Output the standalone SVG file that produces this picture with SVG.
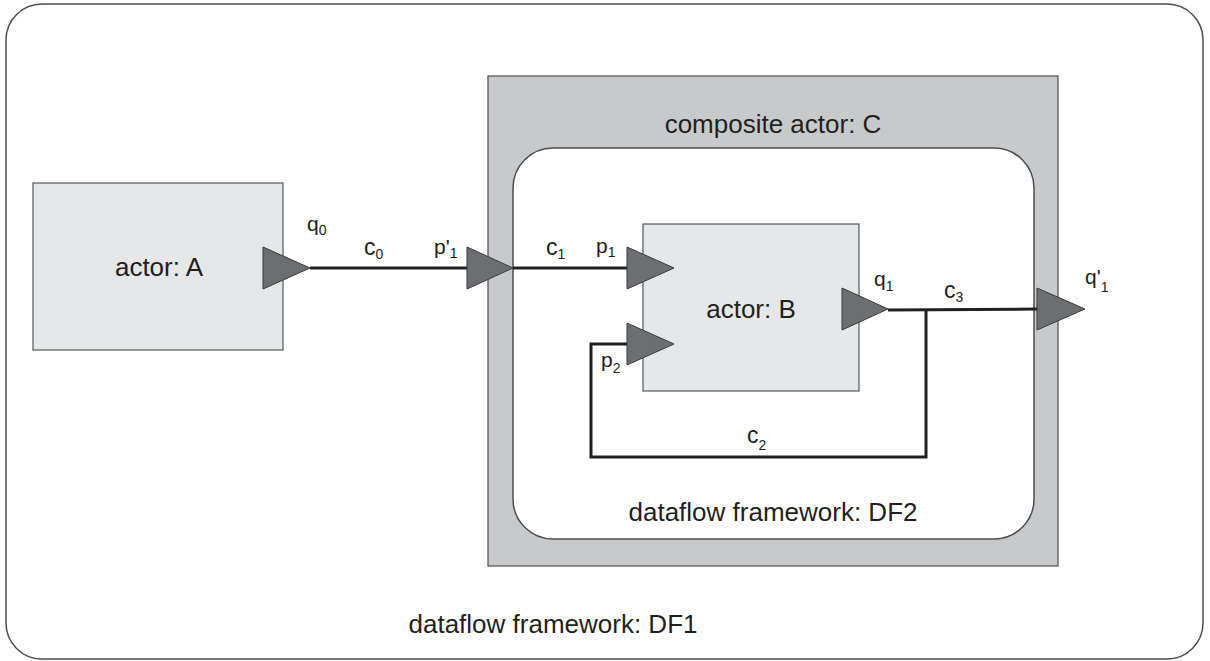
<svg xmlns="http://www.w3.org/2000/svg" width="1210" height="661" viewBox="0 0 1210 661">
  <defs>
    <style>
      text { font-family: "Liberation Sans", Arial, sans-serif; fill: #231f20; }
      .big { font-size: 26px; text-anchor: middle; }
      .lbl { font-size: 21px; }
      .clbl { font-size: 23px; }
      .sub { font-size: 14px; }
      .frame { fill: #ffffff; stroke: #4d4d4f; stroke-width: 1.5; }
      .actor { fill: #e6e7e8; stroke: #58595b; stroke-width: 1.2; }
      .comp { fill: #c8c9cb; stroke: #4d4d4f; stroke-width: 1.2; }
      .port { fill: #6d6e71; stroke: #3a3a3c; stroke-width: 1; }
      .wire { fill: none; stroke: #231f20; stroke-width: 3; stroke-linejoin: miter; }
    </style>
  </defs>

  <!-- outer dataflow framework DF1 -->
  <g id="df1">
    <rect class="frame" x="6" y="4" width="1197" height="655" rx="36" ry="36"/>
    <text class="big" x="553" y="633">dataflow framework: DF1</text>
  </g>

  <!-- actor A -->
  <g id="actorA">
    <rect class="actor" x="33" y="183" width="250" height="167"/>
    <text class="big" x="159" y="276">actor: A</text>
  </g>

  <!-- composite actor C with inner framework DF2 -->
  <g id="actorC">
    <rect class="comp" x="488" y="76" width="570" height="490"/>
    <text class="big" x="773" y="133">composite actor: C</text>
    <g id="df2">
      <rect class="frame" x="513" y="148" width="521" height="391" rx="40" ry="40"/>
      <text class="big" x="773" y="521">dataflow framework: DF2</text>
    </g>
  </g>

  <!-- actor B -->
  <g id="actorB">
    <rect class="actor" x="643" y="224" width="216" height="167"/>
    <text class="big" x="751" y="318">actor: B</text>
  </g>

  <!-- channels -->
  <g id="connectors">
    <polyline class="wire" points="310,268 467,268"/>
    <polyline class="wire" points="513,268 627,268"/>
    <polyline class="wire" points="888,310 1037,309"/>
    <polyline class="wire" points="926,310 926,457 591,457 591,344 627,344"/>
  </g>

  <!-- ports -->
  <g id="ports">
    <polygon id="q0" class="port" points="263,247 310,268 263,289"/>
    <polygon id="p1prime" class="port" points="467,247 513,268 467,289"/>
    <polygon id="p1" class="port" points="627,247 674,268 627,289"/>
    <polygon id="p2" class="port" points="627,323 674,344 627,365"/>
    <polygon id="q1" class="port" points="842,288 888,309 842,330"/>
    <polygon id="q1prime" class="port" points="1037,288 1085,309 1037,330"/>
  </g>

  <!-- port and channel labels -->
  <g id="labels">
    <text class="lbl" x="307" y="231">q<tspan class="sub" dy="4">0</tspan></text>
    <text class="clbl" x="364" y="255">c<tspan class="sub" dy="4">0</tspan></text>
    <text class="lbl" x="434" y="254">p'<tspan class="sub" dy="4">1</tspan></text>
    <text class="clbl" x="546" y="255">c<tspan class="sub" dy="4">1</tspan></text>
    <text class="lbl" x="596" y="253">p<tspan class="sub" dy="4">1</tspan></text>
    <text class="lbl" x="601" y="367">p<tspan class="sub" dy="6">2</tspan></text>
    <text class="lbl" x="874" y="286">q<tspan class="sub" dy="5">1</tspan></text>
    <text class="clbl" x="944" y="298">c<tspan class="sub" dy="4">3</tspan></text>
    <text class="lbl" x="1085" y="284">q'<tspan class="sub" dy="8">1</tspan></text>
    <text class="clbl" x="747" y="443">c<tspan class="sub" dy="7">2</tspan></text>
  </g>
</svg>
